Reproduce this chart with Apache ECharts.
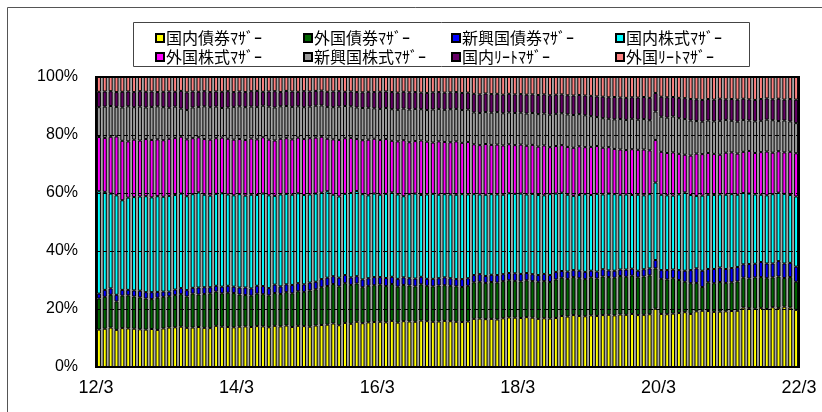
<!DOCTYPE html>
<html><head><meta charset="utf-8">
<script src="https://cdn.jsdelivr.net/npm/echarts@6/dist/echarts.min.js"></script>
<style>html,body{margin:0;padding:0;background:#fff}#c{width:822px;height:412px}</style>
</head><body><div id="c"></div>
<script>
// Monthly, 12/4 .. 22/3 (120 months)
const startYear = 2012, startMonth = 4, monthCount = 120;
const tickLabels = ['12/3','14/3','16/3','18/3','20/3','22/3'];
const seriesNames = ['国内債券ﾏｻﾞｰ','外国債券ﾏｻﾞｰ','新興国債券ﾏｻﾞｰ','国内株式ﾏｻﾞｰ','外国株式ﾏｻﾞｰ','新興国株式ﾏｻﾞｰ','国内ﾘｰﾄﾏｻﾞｰ','外国ﾘｰﾄﾏｻﾞｰ'];

const domesticBond = [
12.9,13.2,13.6,12.8,13.4,13.3,13.2,13.0,12.9,13.1,12.8,13.3,
13.6,13.7,13.9,13.5,13.6,13.8,13.5,13.4,14.2,13.9,13.8,13.7,
13.9,14.0,13.8,14.1,14.0,13.7,14.2,14.0,14.3,13.8,14.2,14.1,
13.9,14.3,14.5,14.6,15.0,14.4,15.2,14.9,15.6,15.1,15.4,15.5,
15.6,15.4,15.9,15.3,15.8,15.7,15.6,16.0,15.8,15.6,15.7,15.9,
15.8,15.6,15.5,15.7,16.6,16.7,16.5,16.6,16.4,16.8,17.1,17.0,
16.9,17.2,17.0,16.6,16.8,16.7,16.9,17.6,17.4,17.9,17.6,17.5,
17.8,17.6,17.9,18.0,17.8,18.1,18.0,18.3,17.9,18.0,18.2,20.1,
18.3,18.2,18.4,18.6,18.9,18.3,19.2,19.4,19.3,19.0,19.1,19.2,
19.3,19.4,20.5,20.3,20.1,20.4,20.0,20.6,20.4,20.8,20.5,19.7];
const foreignBond = [
10.7,11.0,11.3,9.8,11.2,11.4,11.1,11.0,10.7,10.3,11.1,10.9,
10.8,11.1,11.2,10.8,11.7,11.2,11.7,12.0,11.8,11.5,11.8,11.8,
11.1,10.8,10.8,11.2,11.1,11.0,11.3,11.2,11.5,11.6,11.9,11.8,
12.5,12.5,13.0,13.3,13.6,13.4,13.7,13.4,13.2,12.4,12.6,12.7,
12.8,12.5,12.7,12.4,12.5,12.4,12.2,12.5,12.2,12.2,12.4,12.3,
12.2,12.2,12.1,12.3,12.6,12.7,12.5,12.7,12.7,12.8,12.8,12.7,
12.6,12.7,12.6,12.8,12.8,12.6,13.3,13.2,13.0,13.1,13.0,12.8,
13.1,12.9,13.3,13.0,13.0,13.3,13.1,13.2,13.0,13.2,13.4,13.9,
12.1,12.0,12.2,11.4,10.5,10.6,9.8,8.2,9.9,9.9,10.2,9.8,
9.9,10.1,10.3,10.2,10.8,10.6,10.6,10.3,10.8,9.9,10.5,9.7];
const emergingBond = [
1.7,2.4,2.2,2.3,2.0,1.9,2.1,2.3,2.2,2.4,2.0,1.8,
1.6,1.9,2.1,2.2,2.0,2.4,2.3,2.1,2.0,2.3,2.4,2.2,
2.4,2.6,2.5,2.7,2.8,2.5,2.9,2.6,2.7,2.9,2.8,2.6,
2.7,2.6,2.8,2.9,2.7,3.0,2.8,2.6,2.5,2.7,2.6,2.8,
2.6,2.8,2.5,2.7,2.6,2.5,2.7,2.6,2.4,2.6,2.5,2.7,
2.6,2.5,2.7,2.6,2.5,2.6,2.4,2.5,2.6,2.4,2.5,2.6,
2.6,2.5,2.4,2.3,2.5,2.4,2.6,2.3,2.5,2.4,2.6,2.5,
2.3,2.4,2.5,2.3,2.4,2.2,2.5,2.4,2.3,2.5,2.4,2.9,
3.0,3.2,3.0,3.4,3.8,4.5,5.0,5.6,4.6,4.9,5.0,4.8,
4.9,5.0,4.6,5.0,4.7,5.2,5.1,4.8,5.3,5.0,4.9,5.2];
const domesticStock = [
35.3,33.8,32.7,34.3,30.9,31.8,32.2,32.5,33.1,32.7,33.0,32.7,
33.0,32.6,32.6,32.4,32.3,32.8,31.9,31.6,31.7,32.2,31.5,31.5,
32.2,31.7,32.3,31.3,31.9,32.0,30.6,31.7,31.2,31.1,31.0,30.8,
30.4,30.4,29.8,29.8,28.1,28.0,28.0,29.1,29.4,29.4,28.6,28.8,
28.4,29.0,29.1,29.1,28.0,29.0,29.3,28.2,29.1,29.3,28.8,28.7,
28.9,29.1,29.3,28.9,27.9,27.5,28.0,27.8,27.8,27.4,27.5,27.4,
27.7,27.1,27.7,27.6,27.1,27.9,27.0,27.0,26.5,25.6,26.1,26.8,
26.1,26.8,25.8,26.5,26.4,25.8,25.9,25.4,26.2,25.5,25.6,26.7,
26.0,25.8,25.5,26.1,27.0,25.9,25.0,25.9,25.6,25.5,25.2,25.6,
25.5,24.9,24.6,24.3,23.9,23.2,23.5,23.9,23.6,24.0,23.4,24.2];
const foreignStock = [
18.7,18.6,19.6,20.3,20.5,19.4,19.8,19.3,19.7,19.8,19.6,19.5,
19.7,19.7,19.6,19.6,19.3,19.0,19.2,19.3,19.2,19.2,19.2,19.2,
19.0,19.2,19.4,19.2,19.4,19.2,19.1,19.2,19.2,19.1,19.2,19.3,
19.4,19.3,19.3,18.1,19.1,19.5,19.2,19.0,17.9,18.6,19.2,18.9,
18.9,18.9,17.8,18.3,19.3,17.9,18.1,18.8,18.2,17.7,18.4,18.0,
18.0,18.4,17.7,18.1,17.2,17.0,17.5,17.0,17.2,17.0,16.9,16.8,
16.9,16.8,16.9,16.7,17.2,16.2,16.4,16.4,16.5,16.6,16.8,16.2,
16.6,16.5,16.1,16.0,15.6,15.6,15.3,15.8,15.5,15.8,15.1,14.7,
14.8,14.6,14.9,14.0,13.0,13.6,14.6,14.3,14.4,14.2,13.7,14.5,
14.4,14.2,14.2,14.7,14.3,14.7,15.1,14.3,14.3,14.3,14.9,14.9];
const emergingStock = [
10.3,10.8,10.6,10.2,11.5,12.1,11.2,11.7,10.9,11.4,11.4,11.4,
10.7,10.8,9.7,10.1,10.6,10.5,11.3,11.2,10.9,10.2,10.8,11.3,
11.3,11.3,11.0,11.2,10.9,11.4,11.4,11.2,11.1,11.2,10.8,11.0,
10.9,11.0,10.8,11.0,11.1,11.5,11.1,10.9,10.9,11.1,11.0,10.5,
10.7,10.7,10.9,10.9,10.9,11.3,11.1,10.8,10.9,11.4,11.2,11.1,
11.4,11.2,11.3,11.2,11.0,11.1,11.0,11.1,11.2,11.1,11.0,11.1,
11.0,11.1,11.0,11.2,11.0,11.2,11.1,11.0,11.2,11.3,11.1,11.0,
10.6,10.0,10.2,9.8,10.2,10.5,10.4,10.5,10.4,10.5,10.4,9.8,
12.1,12.2,12.4,12.3,12.3,12.1,11.2,11.2,11.2,11.2,11.7,11.3,
10.9,11.0,11.0,10.5,10.9,10.8,11.0,11.2,10.4,11.0,10.5,10.4];
const domesticReit = [
5.3,5.2,5.1,5.1,5.4,5.1,5.2,5.3,5.4,5.3,4.9,5.3,
5.6,5.1,6.1,6.1,5.5,5.2,5.2,5.2,5.2,5.6,5.6,5.1,
5.1,5.2,5.3,5.5,4.8,5.2,5.6,4.9,5.2,5.3,5.0,5.5,
5.2,5.1,5.1,5.2,5.4,5.3,4.9,5.1,5.3,5.4,5.5,5.6,
5.9,5.7,5.9,5.9,5.8,5.9,5.8,5.7,5.9,5.9,5.8,5.9,
5.8,5.8,5.9,5.8,6.4,6.4,6.4,6.4,6.3,6.4,6.4,6.4,
6.4,6.5,6.4,6.6,6.6,6.7,6.6,6.5,6.6,6.7,6.6,6.8,
7.0,7.1,7.4,7.4,7.7,7.4,7.6,7.4,7.6,7.6,7.7,6.4,
6.9,7.0,6.7,7.0,7.2,7.4,7.5,7.5,7.4,7.5,7.6,7.1,
7.5,7.6,7.3,7.3,7.4,7.5,7.3,7.2,7.7,7.2,7.7,8.1];
const foreignReit = [
5.1,5.0,4.9,5.2,5.1,5.0,5.2,4.9,5.1,5.0,5.2,5.1,
5.0,5.1,4.8,5.3,5.0,5.1,4.9,5.2,5.0,5.1,4.9,5.2,
5.0,5.2,4.9,4.8,5.1,5.0,4.9,5.2,4.8,5.0,5.1,4.9,
5.0,4.8,4.7,5.1,5.0,4.9,5.1,5.0,5.2,5.3,5.1,5.2,
5.1,5.0,5.2,5.4,5.1,5.3,5.2,5.4,5.5,5.3,5.2,5.4,
5.3,5.2,5.5,5.4,5.8,6.0,5.7,5.9,5.8,6.1,5.8,6.0,
5.9,6.1,6.0,6.2,6.0,6.3,6.1,6.0,6.3,6.4,6.2,6.4,
6.5,6.7,6.8,7.0,6.9,7.1,7.2,7.0,7.1,6.9,7.2,5.5,
6.8,7.0,6.9,7.2,7.3,7.6,7.7,7.9,7.6,7.8,7.5,7.7,
7.6,7.8,7.5,7.7,7.9,7.6,7.4,7.7,7.5,7.8,7.6,7.8];

const seriesValues = [domesticBond, foreignBond, emergingBond, domesticStock, foreignStock, emergingStock, domesticReit, foreignReit];
const colors = ['#FFFF00','#006600','#0000FF','#00FFFF','#FF00FF','#999999','#660066','#FF8080'];

const categories = [];
for (let i = 0; i < monthCount; i++) {
  const m = (startMonth - 1 + i) % 12 + 1;
  const y = startYear + Math.floor((startMonth - 1 + i) / 12);
  categories.push(String(y % 100) + '/' + m);
}
// 100% stacked: convert to shares of monthly total
const totals = categories.map((_, i) => seriesValues.reduce((s, arr) => s + arr[i], 0));

const chart = echarts.init(document.getElementById('c'), null, {renderer: 'canvas'});
const G = {left: 96, top: 77, right: 23, bottom: 45};
const legendCols = [150, 298, 446, 610];
const legendRows = [25, 44];
const legends = seriesNames.map((name, k) => ({
  orient: 'horizontal', left: legendCols[k % 4], top: legendRows[Math.floor(k / 4)],
  itemGap: 0, itemWidth: 8, itemHeight: 8, icon: 'rect', selectedMode: false,
  textStyle: {fontFamily: 'Noto Sans CJK JP', fontSize: 16, color: '#000', padding: [0, 0, 0, -3]},
  data: [name]
}));
chart.setOption({
  animation: false,
  backgroundColor: '#fff',
  textStyle: {fontFamily: 'Liberation Sans'},
  legend: legends,
  grid: Object.assign({show: true, backgroundColor: '#a8a8a8', borderWidth: 0}, G),
  xAxis: [
    {type: 'category', data: categories, boundaryGap: true,
     axisLine: {show: false}, axisTick: {show: false}, axisLabel: {show: false}, splitLine: {show: false}},
    {type: 'value', min: 0, max: monthCount, interval: 24, position: 'bottom',
     axisLine: {show: false}, axisTick: {show: false}, splitLine: {show: false},
     axisLabel: {show: true, showMinLabel: true, showMaxLabel: true, margin: 12,
       fontFamily: 'Liberation Sans', fontSize: 18, color: '#000',
       formatter: v => tickLabels[Math.round(v / 24)]}}
  ],
  yAxis: {type: 'value', min: 0, max: 100, interval: 20, z: 10,
    axisLine: {show: false}, axisTick: {show: false},
    axisLabel: {formatter: '{value}%', fontFamily: 'Liberation Sans', fontSize: 16, color: '#000', margin: 18},
    splitLine: {show: true, lineStyle: {color: '#000', width: 1, type: [4, 3]}}},
  series: seriesValues.map((arr, k) => ({
    name: seriesNames[k], type: 'bar', stack: 'total', xAxisIndex: 0,
    barCategoryGap: '32%',
    itemStyle: {color: colors[k], borderColor: '#000', borderWidth: 1},
    data: arr.map((v, i) => v / totals[i] * 100)
  })),
  graphic: [
    {type: 'rect', z: 100, silent: true, shape: {x: 7.5, y: 7.5, width: 830, height: 420},
     style: {fill: 'none', stroke: '#555', lineWidth: 1}},
    {type: 'rect', z: 100, silent: true, shape: {x: 133.5, y: 22.5, width: 616, height: 44},
     style: {fill: 'none', stroke: '#444', lineWidth: 1}},
    {type: 'rect', z: 100, silent: true, shape: {x: G.left, y: G.top, width: 822 - G.left - G.right, height: 412 - G.top - G.bottom},
     style: {fill: 'none', stroke: '#000', lineWidth: 2}}
  ]
});
</script></body></html>
